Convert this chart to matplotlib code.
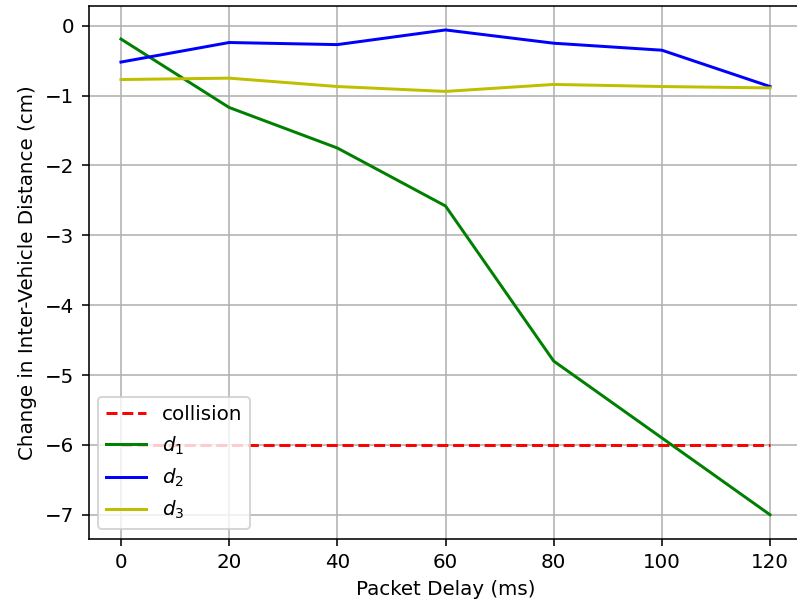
import numpy as np
import matplotlib
matplotlib.use('Agg')
import matplotlib.pyplot as plt

delay = [0, 20, 40, 60, 80, 100, 120]
d1 = [-0.19, -1.17, -1.75, -2.58, -4.80, -5.90, -7.00]
d2 = [-0.52, -0.24, -0.27, -0.06, -0.25, -0.35, -0.87]
d3 = [-0.77, -0.75, -0.87, -0.94, -0.84, -0.87, -0.89]
collision = -6

DPI = 143
fig = plt.figure(figsize=(797 / DPI, 606 / DPI), dpi=DPI)
ax = fig.add_subplot(111)
# right spine sits just past the image edge in the reference
fig.subplots_adjust(left=88.5 / 797, right=802.5 / 797, top=1 - 5.7 / 606, bottom=1 - 539 / 606)

ax.plot(delay, [collision] * len(delay), 'r--', label='collision')
ax.plot(delay, d1, 'g', label='$d_1$')
ax.plot(delay, d2, 'b', label='$d_2$')
ax.plot(delay, d3, 'y', label='$d_3$')

ax.set_xlabel('Packet Delay (ms)')
ax.set_ylabel('Change in Inter-Vehicle Distance (cm)')
ax.grid(True)
ax.legend(loc='lower left')

fig.savefig('out.png', dpi=DPI)
